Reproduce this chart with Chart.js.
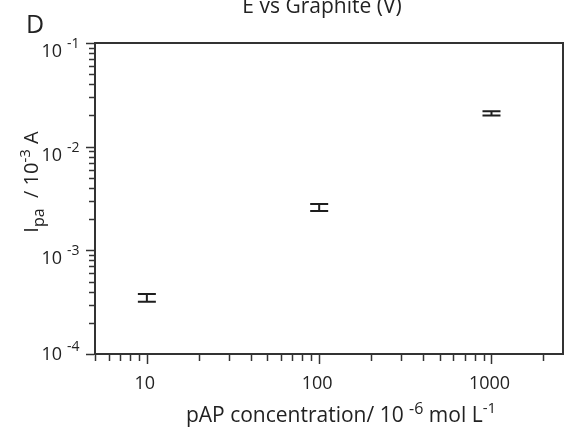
<!DOCTYPE html>
<html lang="en">
<head>
    <meta charset="UTF-8">
    <title>pAP concentration vs Ipa</title>
    <script src="https://cdn.jsdelivr.net/npm/chart.js"></script>
    <style>
        body {
            margin: 0;
            background-color: #ffffff;
        }

        #wrap {
            width: 566px;
            height: 428px;
            position: relative;
        }
    </style>
</head>
<body>
    <div id="wrap">
        <canvas id="chart-ipa"></canvas>
    </div>

    <script>
        // data (panel D)
        const concentrations = [10, 100, 1000];          // 10^-6 mol L-1
        const currents = [0.00035, 0.0026, 0.021];       // 10^-3 A
        const currentErr = [0.00003, 0.0002, 0.001];
        const xTickValues = [10, 100, 1000];
        const xTickLabels = ['10', '100', '1000'];
        const yTickValues = [0.1, 0.01, 0.001, 0.0001];
        const yTickExponents = ['-1', '-2', '-3', '-4'];

        const FONT = '"Open Sans", "DejaVu Sans", sans-serif';
        const INK = '#222222';

        // draws a row of text pieces (normal / sub / superscript) on one baseline
        function richText(ctx, parts, x, y, align) {
            let total = 0;
            parts.forEach(p => {
                ctx.font = p.size + 'px ' + FONT;
                total += ctx.measureText(p.t).width;
            });
            let cx = align === 'center' ? x - total / 2 : (align === 'right' ? x - total : x);
            ctx.textAlign = 'left';
            ctx.textBaseline = 'alphabetic';
            parts.forEach(p => {
                ctx.font = p.size + 'px ' + FONT;
                ctx.fillText(p.t, cx, y + (p.dy || 0));
                cx += ctx.measureText(p.t).width;
            });
        }

        const axisPlugin = {
            id: 'axisPlugin',
            afterDraw(chart) {
                const ctx = chart.ctx;
                const a = chart.chartArea;
                const xs = chart.scales.x;
                const ys = chart.scales.y;
                ctx.save();
                ctx.strokeStyle = '#333333';
                ctx.fillStyle = INK;

                // frame
                ctx.lineWidth = 2;
                ctx.strokeRect(a.left, a.top, a.right - a.left, a.bottom - a.top);

                // x ticks (1..9 per decade)
                ctx.lineWidth = 1.5;
                for (let d = 0; d <= 3; d++) {
                    for (let m = 1; m <= 9; m++) {
                        const v = m * Math.pow(10, d);
                        if (v < xs.min || v > xs.max) continue;
                        const px = Math.round(xs.getPixelForValue(v)) + 0.5;
                        const len = m === 1 ? 10 : 7;
                        ctx.beginPath();
                        ctx.moveTo(px, a.bottom + 1);
                        ctx.lineTo(px, a.bottom + len);
                        ctx.stroke();
                    }
                }
                // y ticks
                for (let d = -4; d <= -1; d++) {
                    for (let m = 1; m <= 9; m++) {
                        const v = m * Math.pow(10, d);
                        if (v < ys.min || v > ys.max * 1.0001) continue;
                        const py = Math.round(ys.getPixelForValue(v)) + 0.5;
                        const len = m === 1 ? 9 : 6;
                        ctx.beginPath();
                        ctx.moveTo(a.left - 1, py);
                        ctx.lineTo(a.left - len, py);
                        ctx.stroke();
                    }
                }

                // x tick labels
                xTickValues.forEach((v, i) => {
                    richText(ctx, [{ t: xTickLabels[i], size: 18 }], xs.getPixelForValue(v) - 2, 389, 'center');
                });
                // y tick labels 10^n
                yTickValues.forEach((v, i) => {
                    const py = ys.getPixelForValue(v);
                    const base = i === 3 ? py + 6 : py + 14;
                    richText(ctx, [{ t: '10', size: 18 }], 62, base, 'right');
                    richText(ctx, [{ t: yTickExponents[i], size: 14 }], 67, base - 9, 'left');
                });

                // axis titles
                richText(ctx, [
                    { t: 'pAP concentration/ 10 ', size: 21 },
                    { t: '-6', size: 16, dy: -8 },
                    { t: ' mol L', size: 21 },
                    { t: '-1', size: 15, dy: -9 }
                ], 341, 422, 'center');

                ctx.save();
                ctx.translate(38, 182);
                ctx.rotate(-Math.PI / 2);
                richText(ctx, [
                    { t: 'I', size: 20 },
                    { t: 'pa', size: 16, dy: 6 },
                    { t: '  / 10', size: 20 },
                    { t: '-3', size: 15, dy: -8 },
                    { t: ' A', size: 20 }
                ], 0, 0, 'center');
                ctx.restore();

                // panel letter and cut title
                richText(ctx, [{ t: 'D', size: 25 }], 26, 33, 'left');
                richText(ctx, [{ t: 'E vs Graphite (V)', size: 21 }], 322, 13, 'center');

                ctx.restore();
            }
        };

        // error bars drawn through the scales
        const errorBarPlugin = {
            id: 'errorBarPlugin',
            afterDatasetsDraw(chart) {
                const ctx = chart.ctx;
                const xs = chart.scales.x;
                const ys = chart.scales.y;
                ctx.save();
                ctx.strokeStyle = '#1e1e1e';
                ctx.lineWidth = 2;
                concentrations.forEach((c, i) => {
                    const px = xs.getPixelForValue(c);
                    const top = ys.getPixelForValue(currents[i] + currentErr[i]);
                    const bot = ys.getPixelForValue(currents[i] - currentErr[i]);
                    const half = 9;
                    ctx.beginPath();
                    ctx.moveTo(px - half, top);
                    ctx.lineTo(px + half, top);
                    ctx.moveTo(px - half, bot);
                    ctx.lineTo(px + half, bot);
                    ctx.moveTo(px, top);
                    ctx.lineTo(px, bot);
                    ctx.stroke();
                });
                ctx.restore();
            }
        };

        const ctx = document.getElementById('chart-ipa').getContext('2d');
        const chartIpa = new Chart(ctx, {
            type: 'scatter',
            data: {
                datasets: [{
                    label: 'Ipa',
                    data: concentrations.map((c, i) => ({ x: c, y: currents[i] })),
                    pointRadius: 0,
                    showLine: false
                }]
            },
            options: {
                responsive: true,
                maintainAspectRatio: false,
                animation: false,
                layout: {
                    padding: { left: 95, top: 43, right: 3, bottom: 74 }
                },
                plugins: {
                    legend: { display: false },
                    tooltip: { enabled: false }
                },
                scales: {
                    x: { type: 'logarithmic', min: 5, max: 2600, display: false },
                    y: { type: 'logarithmic', min: 0.0001, max: 0.1, display: false }
                }
            },
            plugins: [axisPlugin, errorBarPlugin]
        });
    </script>
</body>
</html>
